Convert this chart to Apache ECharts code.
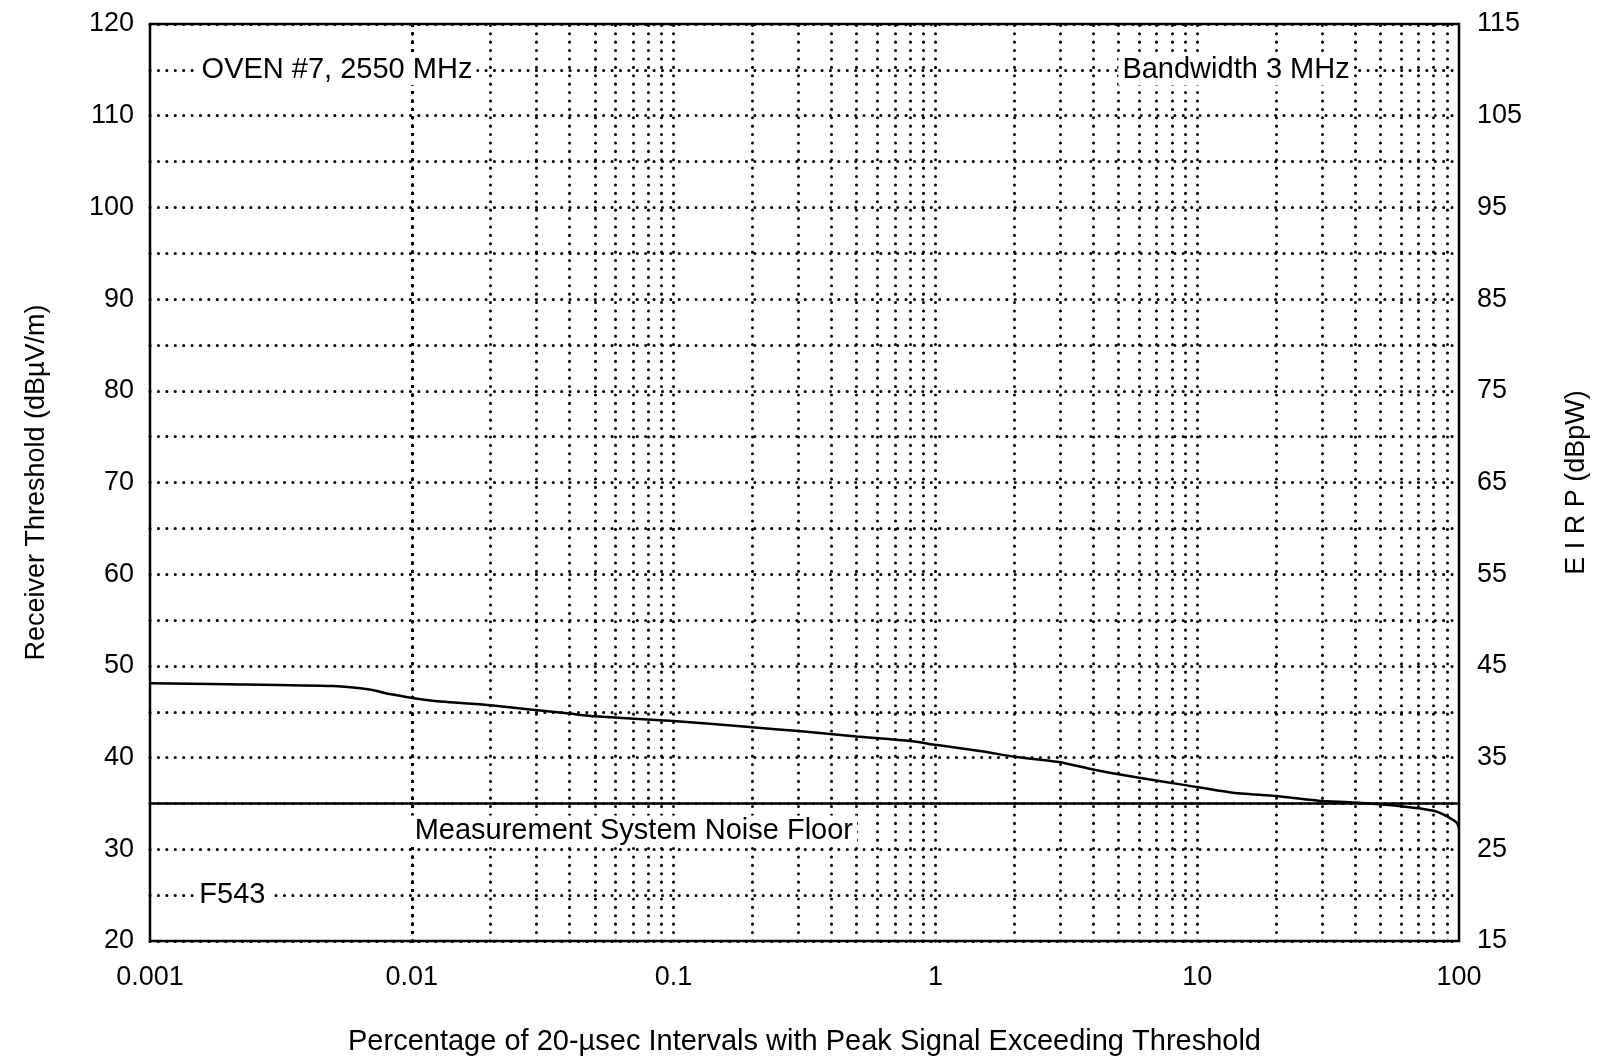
<!DOCTYPE html>
<html>
<head>
<meta charset="utf-8">
<script src="https://cdn.jsdelivr.net/npm/echarts@6/dist/echarts.min.js"></script>
<style>
html, body { margin: 0; padding: 0; background: #fff; }
#main { width: 1598px; height: 1064px; }
</style>
</head>
<body>
<div id="main"></div>
<script>
// percentage of intervals (log x) and receiver threshold
var pctX = [0.001, 0.002, 0.005, 0.007, 0.008, 0.012, 0.02, 0.04, 0.05, 0.1, 0.2, 0.3, 0.5, 0.8, 1,
  1.5, 2, 3, 4, 6, 9, 13.5, 20, 29, 40, 60, 80, 90, 98, 100];
var thresholdY = [48.1, 48.0, 47.8, 47.4, 47.0, 46.2, 45.7, 44.8, 44.5, 44.0, 43.3, 42.9, 42.3, 41.8, 41.4,
  40.7, 40.1, 39.5, 38.7, 37.8, 37.0, 36.2, 35.8, 35.3, 35.1, 34.7, 34.2, 33.6, 32.9, 32.3];
var noiseFloor = 35;
var decades = [0.001, 0.01, 0.1, 1, 10];
var gridSteps = [1, 2, 3, 4, 5, 6, 7, 8, 9];
// text notes: [x, y, text]
var notes = [
  [0.00152, 115, 'OVEN #7, 2550 MHz'],
  [5.0, 115, 'Bandwidth 3 MHz'],
  [0.0099, 32, 'Measurement System Noise Floor'],
  [0.00149, 25, 'F543']
];

var font = "'Liberation Sans Narrow','Liberation Sans',Arial,sans-serif";
var dotted = { color: '#000', width: 3, type: [0.1, 8.3], cap: 'round' };

// vertical gridlines at 1..9 of every decade (first one is the frame)
var vLines = [];
decades.forEach(function (d) {
  gridSteps.forEach(function (m) {
    var v = +(d * m).toPrecision(3);
    if (v > 0.001) vLines.push(v);
  });
});

var myChart = echarts.init(document.getElementById('main'));

var option = {
  backgroundColor: '#fff',
  animation: false,
  grid: {
    left: 150, right: 138, top: 24, bottom: 123,
    show: true, borderColor: '#000', borderWidth: 2.5, backgroundColor: 'transparent'
  },
  xAxis: {
    type: 'log', logBase: 10, min: 0.001, max: 100,
    name: 'Percentage of 20-\u00b5sec Intervals with Peak Signal Exceeding Threshold',
    nameLocation: 'middle', nameGap: 86,
    nameTextStyle: { fontFamily: font, fontSize: 29, color: '#000' },
    axisLine: { show: false },
    axisTick: { show: false },
    axisLabel: {
      fontFamily: font, fontSize: 27, color: '#000', margin: 23,
      formatter: function (v) { return String(+v.toPrecision(3)); }
    },
    splitLine: { show: false }
  },
  yAxis: [{
    type: 'value', min: 20, max: 120, interval: 5,
    name: 'Receiver Threshold (dB\u00b5V/m)',
    nameLocation: 'middle', nameGap: 100, nameRotate: 90,
    nameTextStyle: { fontFamily: font, fontSize: 27, color: '#000' },
    axisLine: { show: false },
    axisTick: { show: false },
    axisLabel: {
      fontFamily: font, fontSize: 27, color: '#000', margin: 16,
      formatter: function (v) { return v % 10 === 0 ? String(v) : ''; }
    },
    splitLine: { show: true, lineStyle: dotted }
  }, {
    type: 'value', min: 15, max: 115, interval: 5, position: 'right',
    name: 'E I R P (dBpW)',
    nameLocation: 'middle', nameGap: 104, nameRotate: 90,
    nameTextStyle: { fontFamily: font, fontSize: 27, color: '#000' },
    axisLine: { show: false },
    axisTick: { show: false },
    axisLabel: {
      fontFamily: font, fontSize: 27, color: '#000', margin: 18,
      formatter: function (v) { return (v - 15) % 10 === 0 ? String(v) : ''; }
    },
    splitLine: { show: false }
  }],
  series: [{
    // vertical log gridlines + noise floor
    type: 'line', data: [], silent: true,
    markLine: {
      silent: true, symbol: 'none', animation: false,
      label: { show: false },
      lineStyle: dotted,
      data: vLines.map(function (v) { return { xAxis: v }; }).concat([
        { yAxis: noiseFloor, lineStyle: { color: '#000', width: 2.5, type: 'solid' } }
      ])
    }
  }, {
    name: 'threshold', type: 'line', showSymbol: false, smooth: 0.2,
    lineStyle: { color: '#000', width: 2.5 },
    data: pctX.map(function (x, i) { return [x, thresholdY[i]]; }),
    z: 5
  }, {
    name: 'notes', type: 'scatter', symbolSize: 0, silent: true, z: 6,
    itemStyle: { opacity: 1 },
    data: notes,
    label: {
      show: true, position: 'right', distance: 0,
      fontFamily: font, fontSize: 29, color: '#000',
      backgroundColor: '#fff', padding: [1, 4],
      formatter: function (p) { return p.data[2]; }
    }
  }]
};

myChart.setOption(option);
</script>
</body>
</html>
